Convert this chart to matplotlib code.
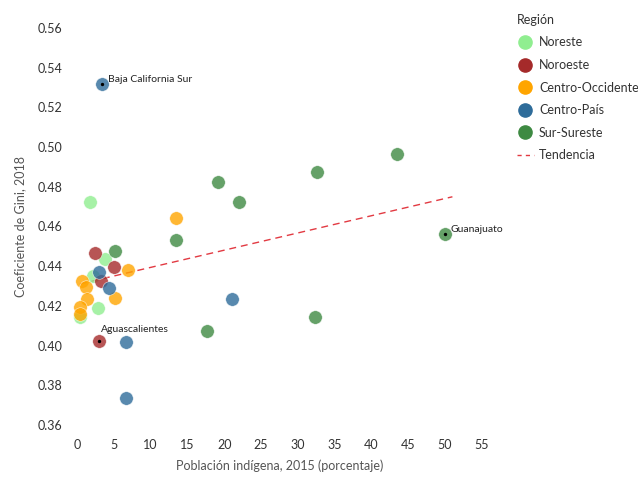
import matplotlib
matplotlib.use("Agg")
import matplotlib.pyplot as plt
from matplotlib.lines import Line2D
import numpy as np

plt.rcParams['font.family'] = ['Lato', 'DejaVu Sans']

regions = ["Noreste", "Noroeste", "Centro-Occidente", "Centro-País", "Sur-Sureste"]
colors = ["#90EE90", "#A52A2A", "#FFA500", "#2E6C9A", "#3E8A42"]

noreste_x = [1.8, 3.85, 2.2, 2.85, 0.4]
noreste_y = [0.4722, 0.4438, 0.4352, 0.4191, 0.4146]
noroeste_x = [2.5, 5.0, 3.26, 3.0]
noroeste_y = [0.4465, 0.4394, 0.4325, 0.4022]
centro_occ_x = [13.4, 7.0, 0.64, 1.2, 1.3, 5.1, 0.4, 0.4]
centro_occ_y = [0.4644, 0.4381, 0.4325, 0.4297, 0.4235, 0.4241, 0.4196, 0.4159]
centro_pais_x = [3.4, 3.0, 4.3, 6.7, 21.1, 6.66]
centro_pais_y = [0.532, 0.4369, 0.4292, 0.4016, 0.4236, 0.3736]
sur_x = [13.4, 5.1, 19.2, 32.6, 43.5, 22.0, 50.0, 32.4, 17.6]
sur_y = [0.4532, 0.4477, 0.4826, 0.4875, 0.4965, 0.4722, 0.456, 0.4146, 0.4074]

series_x = [noreste_x, noroeste_x, centro_occ_x, centro_pais_x, sur_x]
series_y = [noreste_y, noroeste_y, centro_occ_y, centro_pais_y, sur_y]

labels = ["Baja California Sur", "Guanajuato", "Aguascalientes"]
labels_x = [3.4, 50.0, 3.0]
labels_y = [0.532, 0.456, 0.4022]

trend_x = [0.4, 51.0]
trend_intercept = 0.4307
trend_slope = 0.000868

x_ticks = [0, 5, 10, 15, 20, 25, 30, 35, 40, 45, 50, 55]
y_ticks = [0.36, 0.38, 0.40, 0.42, 0.44, 0.46, 0.48, 0.50, 0.52, 0.54, 0.56]

text_color = "#333333"
trend_color = "#E23A42"

fig = plt.figure(figsize=(6.38, 4.8), dpi=100)
ax = fig.add_axes([0.1091, 0.0940, 0.6577, 0.8683])

for xs, ys, c in zip(series_x, series_y, colors):
    ax.scatter(xs, ys, s=95, color=c, alpha=0.8, edgecolors="white", linewidths=0.4, zorder=3)

tx = np.array(trend_x)
ax.plot(tx, trend_intercept + trend_slope * tx, color=trend_color, linestyle=(0, (5, 3.5)),
        linewidth=1.0, zorder=2)

offsets = [(4, 0), (4, 0), (1.5, 5)]
for lab, lx, ly, off in zip(labels, labels_x, labels_y, offsets):
    ax.scatter([lx], [ly], s=2, color="black", zorder=4)
    ax.annotate(lab, (lx, ly), xytext=off, textcoords="offset points",
                ha="left", va="bottom", fontsize=7.5, color="#222222", zorder=5)

ax.set_xlim(-1, 56)
ax.set_ylim(0.355, 0.565)
ax.set_xticks(x_ticks)
ax.set_yticks(y_ticks)
ax.set_yticklabels([f"{v:.2f}" for v in y_ticks])
ax.tick_params(length=0, labelsize=9, colors=text_color)
ax.tick_params(axis="y", pad=5)
ax.tick_params(axis="x", pad=3)
for s in ax.spines.values():
    s.set_visible(False)

ax.set_xlabel("Población indígena, 2015 (porcentaje)", fontsize=9, color="#555555", labelpad=6)
ax.set_ylabel("Coeficiente de Gini, 2018", fontsize=9, color="#555555", labelpad=8)

handles = [Line2D([0], [0], marker="o", linestyle="none", markersize=9.5,
                  markerfacecolor=c, markeredgecolor=c) for c in colors]
handles.append(Line2D([0], [0], color=trend_color, linestyle=(0, (3, 3)), linewidth=1.0))
leg = fig.legend(handles, regions + ["Tendencia"], title="Región", loc="upper left",
                 bbox_to_anchor=(0.792, 0.995), frameon=False, fontsize=9, title_fontsize=9,
                 labelspacing=0.85, handlelength=1.4, handletextpad=0.4,
                 alignment="left", labelcolor=text_color)
leg.get_title().set_color(text_color)

fig.savefig("out.png", dpi=100)
